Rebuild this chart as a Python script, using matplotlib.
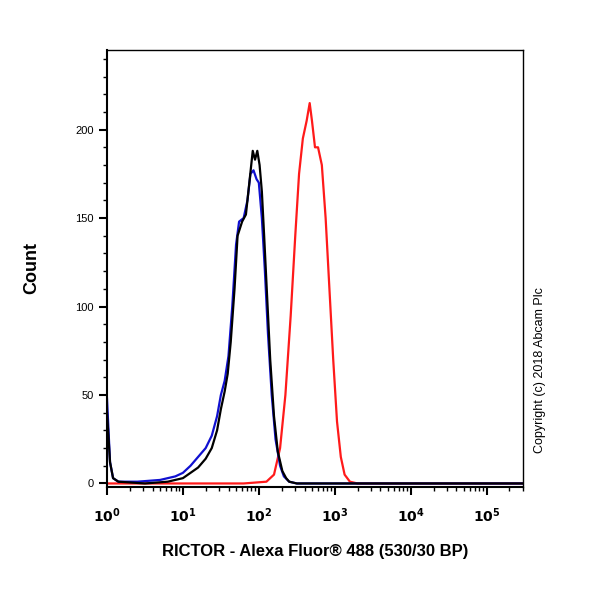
import matplotlib.pyplot as plt
import numpy as np
from matplotlib.ticker import MultipleLocator, LogLocator, NullFormatter
import matplotlib.transforms as mtransforms

plt.rcParams['font.family'] = ['Liberation Sans', 'DejaVu Sans']

# log10 of intensity vs count
black_log = [0.0, 0.04, 0.08, 0.15, 0.5, 0.8, 1.0, 1.1, 1.2, 1.3, 1.38, 1.45, 1.5, 1.55, 1.59, 1.63, 1.68,
             1.72, 1.78, 1.83, 1.88, 1.92, 1.95, 1.98, 2.01, 2.04, 2.07, 2.11, 2.15, 2.2, 2.25, 2.31, 2.36, 2.4, 2.5, 5.5]
black_cnt = [40, 12, 3, 1, 0, 1, 3, 6, 9, 14, 20, 30, 42, 52, 62, 80, 110,
             140, 148, 152, 172, 188, 183, 188, 180, 165, 140, 105, 70, 38, 18, 7, 3, 1, 0, 0]
blue_log = [0.0, 0.04, 0.08, 0.15, 0.4, 0.7, 0.9, 1.0, 1.1, 1.2, 1.3, 1.38, 1.45, 1.5, 1.55, 1.6, 1.65,
            1.70, 1.74, 1.80, 1.85, 1.89, 1.93, 1.97, 2.0, 2.04, 2.08, 2.12, 2.17, 2.22, 2.28, 2.33, 2.4, 2.5, 5.5]
blue_cnt = [48, 12, 3, 1, 1, 2, 4, 6, 10, 15, 20, 27, 38, 50, 58, 72, 100,
            135, 148, 150, 160, 175, 177, 172, 170, 150, 120, 85, 50, 25, 10, 4, 1, 0, 0]
red_log = [0.0, 1.8, 2.1, 2.2, 2.28, 2.35, 2.42, 2.48, 2.53, 2.58, 2.63, 2.67, 2.70, 2.74, 2.78, 2.83,
           2.88, 2.93, 2.98, 3.03, 3.08, 3.13, 3.2, 3.3, 5.5]
red_cnt = [0, 0, 1, 5, 20, 50, 95, 140, 175, 195, 205, 215, 205, 190, 190, 180,
           150, 110, 70, 35, 15, 5, 1, 0, 0]

fig = plt.figure(figsize=(6, 6), dpi=100)
ax = fig.add_axes([107/600, 113/600, 416/600, 437/600])

ax.plot(10**np.array(red_log), red_cnt, color='#ff1a1a', lw=1.6)
ax.plot(10**np.array(blue_log), blue_cnt, color='#1010d0', lw=1.6)
ax.plot(10**np.array(black_log), black_cnt, color='black', lw=1.6)

ax.set_xscale('log')
ax.set_xlim(1, 10**5.48)
ax.set_ylim(-2, 245)
ax.xaxis.set_minor_locator(LogLocator(base=10, subs=np.arange(2, 10), numticks=20))
ax.xaxis.set_minor_formatter(NullFormatter())
ax.set_xticks([10**i for i in range(6)])
ax.set_xticklabels([f'$\\mathbf{{10^{i}}}$' for i in range(6)], fontsize=10)
offset = mtransforms.ScaledTranslation(12/72, 0, fig.dpi_scale_trans)
for lab in ax.get_xticklabels():
    lab.set_transform(lab.get_transform() + offset)
ax.yaxis.set_major_locator(MultipleLocator(50))
ax.yaxis.set_minor_locator(MultipleLocator(10))
ax.tick_params(axis='both', which='major', length=6, width=1.5, labelsize=8)
ax.tick_params(axis='x', labelsize=10)
ax.tick_params(axis='both', which='minor', length=3, width=1)
ax.tick_params(axis='x', pad=8)
for s in ax.spines.values():
    s.set_linewidth(1)
ax.spines['bottom'].set_linewidth(1.5)
ax.spines['left'].set_linewidth(1.5)

ax.set_ylabel('Count', fontsize=13, fontweight='bold')
ax.yaxis.set_label_coords(-0.16, 0.5)
ax.set_xlabel('RICTOR - Alexa Fluor® 488 (530/30 BP)', fontsize=12, fontweight='bold', labelpad=14)
fig.text(540/600, 1 - 370/600, 'Copyright (c) 2018 Abcam Plc', rotation=90,
         ha='center', va='center', fontsize=9)

fig.savefig('out.png', dpi=100)
